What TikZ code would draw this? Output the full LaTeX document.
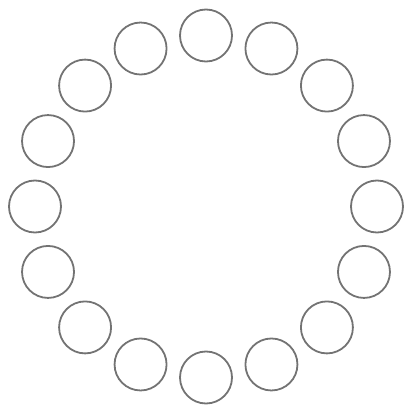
\documentclass[tikz,border=0pt]{standalone}
\begin{document}
\begin{tikzpicture}[x=1pt,y=1pt,
  ring/.style={circle,draw=black!55,line width=1.8pt,minimum size=52pt,inner sep=0pt}]
\useasboundingbox (0,0) rectangle (405,410);
\foreach \i in {0,...,15}{
  \node[ring] (c\i) at ({206+171*sin(22.5*\i)},{203.5+171*cos(22.5*\i)}) {};
}
\end{tikzpicture}
\end{document}
